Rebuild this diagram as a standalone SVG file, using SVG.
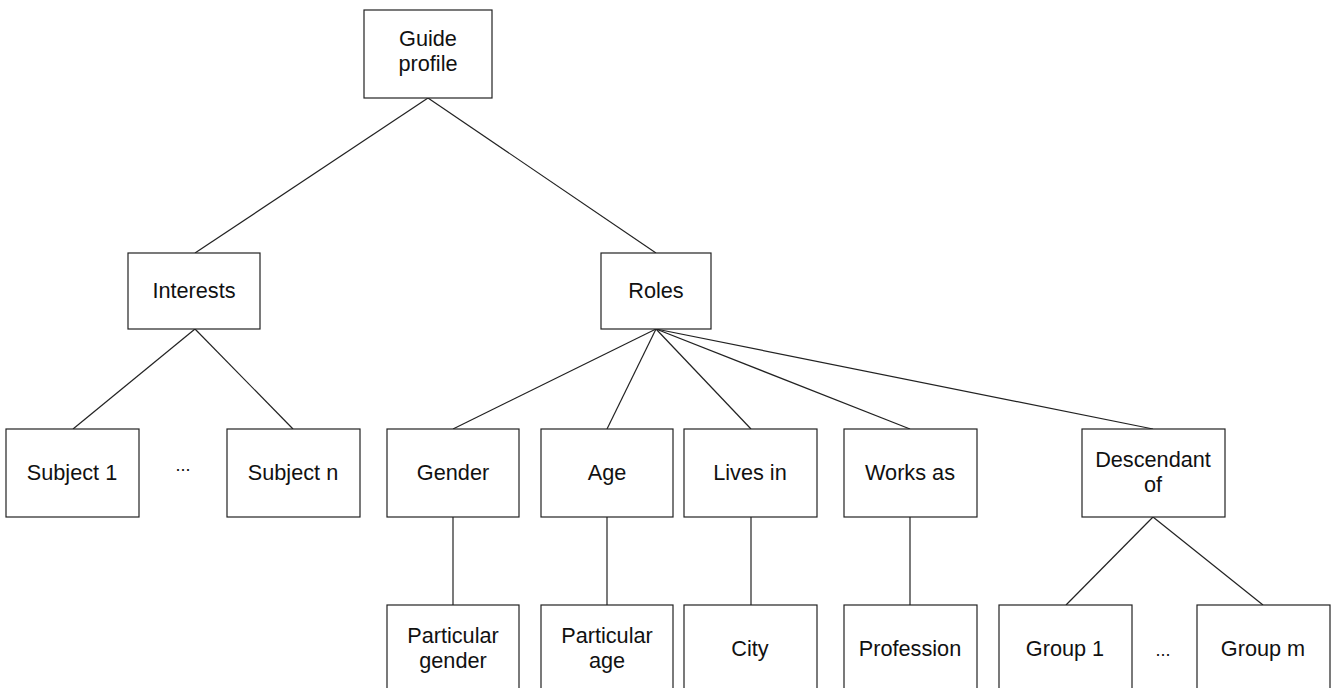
<svg xmlns="http://www.w3.org/2000/svg" width="1332" height="688" viewBox="0 0 1332 688">
<style>
rect{fill:#fff;stroke:#222;stroke-width:1.2}
line{stroke:#222;stroke-width:1.2}
text{font-family:"Liberation Sans",Arial,sans-serif;font-size:21.7px;fill:#111;text-anchor:middle}
.dots{font-size:18px}
</style>
<rect x="0" y="0" width="1332" height="688" style="stroke:none"/>
<g id="connectors">
<line x1="428" y1="98" x2="195" y2="253"/>
<line x1="428" y1="98" x2="656" y2="253"/>
<line x1="195" y1="329" x2="73" y2="429"/>
<line x1="195" y1="329" x2="293" y2="429"/>
<line x1="656" y1="329" x2="453" y2="429"/>
<line x1="656" y1="329" x2="607" y2="429"/>
<line x1="656" y1="329" x2="751" y2="429"/>
<line x1="656" y1="329" x2="910" y2="429"/>
<line x1="656" y1="329" x2="1153" y2="429"/>
<line x1="453" y1="517" x2="453" y2="605"/>
<line x1="607" y1="517" x2="607" y2="605"/>
<line x1="751" y1="517" x2="751" y2="605"/>
<line x1="910" y1="517" x2="910" y2="605"/>
<line x1="1153" y1="517" x2="1066" y2="605"/>
<line x1="1153" y1="517" x2="1263" y2="605"/>
</g>
<g id="guide"><rect x="364" y="10" width="128" height="88"/><text x="428" y="46">Guide</text><text x="428" y="71">profile</text></g>
<g id="interests"><rect x="128" y="253" width="132" height="76"/><text x="194" y="298">Interests</text></g>
<g id="roles"><rect x="601" y="253" width="110" height="76"/><text x="656" y="298">Roles</text></g>
<g id="subject1"><rect x="6" y="429" width="133" height="88"/><text x="72" y="480">Subject 1</text></g>
<g id="ellipsis1"><text class="dots" x="183" y="471">...</text></g>
<g id="subjectn"><rect x="227" y="429" width="133" height="88"/><text x="293" y="480">Subject n</text></g>
<g id="gender"><rect x="387" y="429" width="132" height="88"/><text x="453" y="480">Gender</text></g>
<g id="age"><rect x="541" y="429" width="132" height="88"/><text x="607" y="480">Age</text></g>
<g id="livesin"><rect x="684" y="429" width="133" height="88"/><text x="750" y="480">Lives in</text></g>
<g id="worksas"><rect x="844" y="429" width="133" height="88"/><text x="910" y="480">Works as</text></g>
<g id="descendant"><rect x="1082" y="429" width="143" height="88"/><text x="1153" y="467">Descendant</text><text x="1153" y="492">of</text></g>
<g id="pgender"><rect x="387" y="605" width="132" height="88"/><text x="453" y="643">Particular</text><text x="453" y="668">gender</text></g>
<g id="page"><rect x="541" y="605" width="132" height="88"/><text x="607" y="643">Particular</text><text x="607" y="668">age</text></g>
<g id="city"><rect x="684" y="605" width="133" height="88"/><text x="750" y="656">City</text></g>
<g id="profession"><rect x="844" y="605" width="133" height="88"/><text x="910" y="656">Profession</text></g>
<g id="group1"><rect x="999" y="605" width="133" height="88"/><text x="1065" y="656">Group 1</text></g>
<g id="ellipsis2"><text class="dots" x="1163" y="656">...</text></g>
<g id="groupm"><rect x="1197" y="605" width="133" height="88"/><text x="1263" y="656">Group m</text></g>
</svg>
